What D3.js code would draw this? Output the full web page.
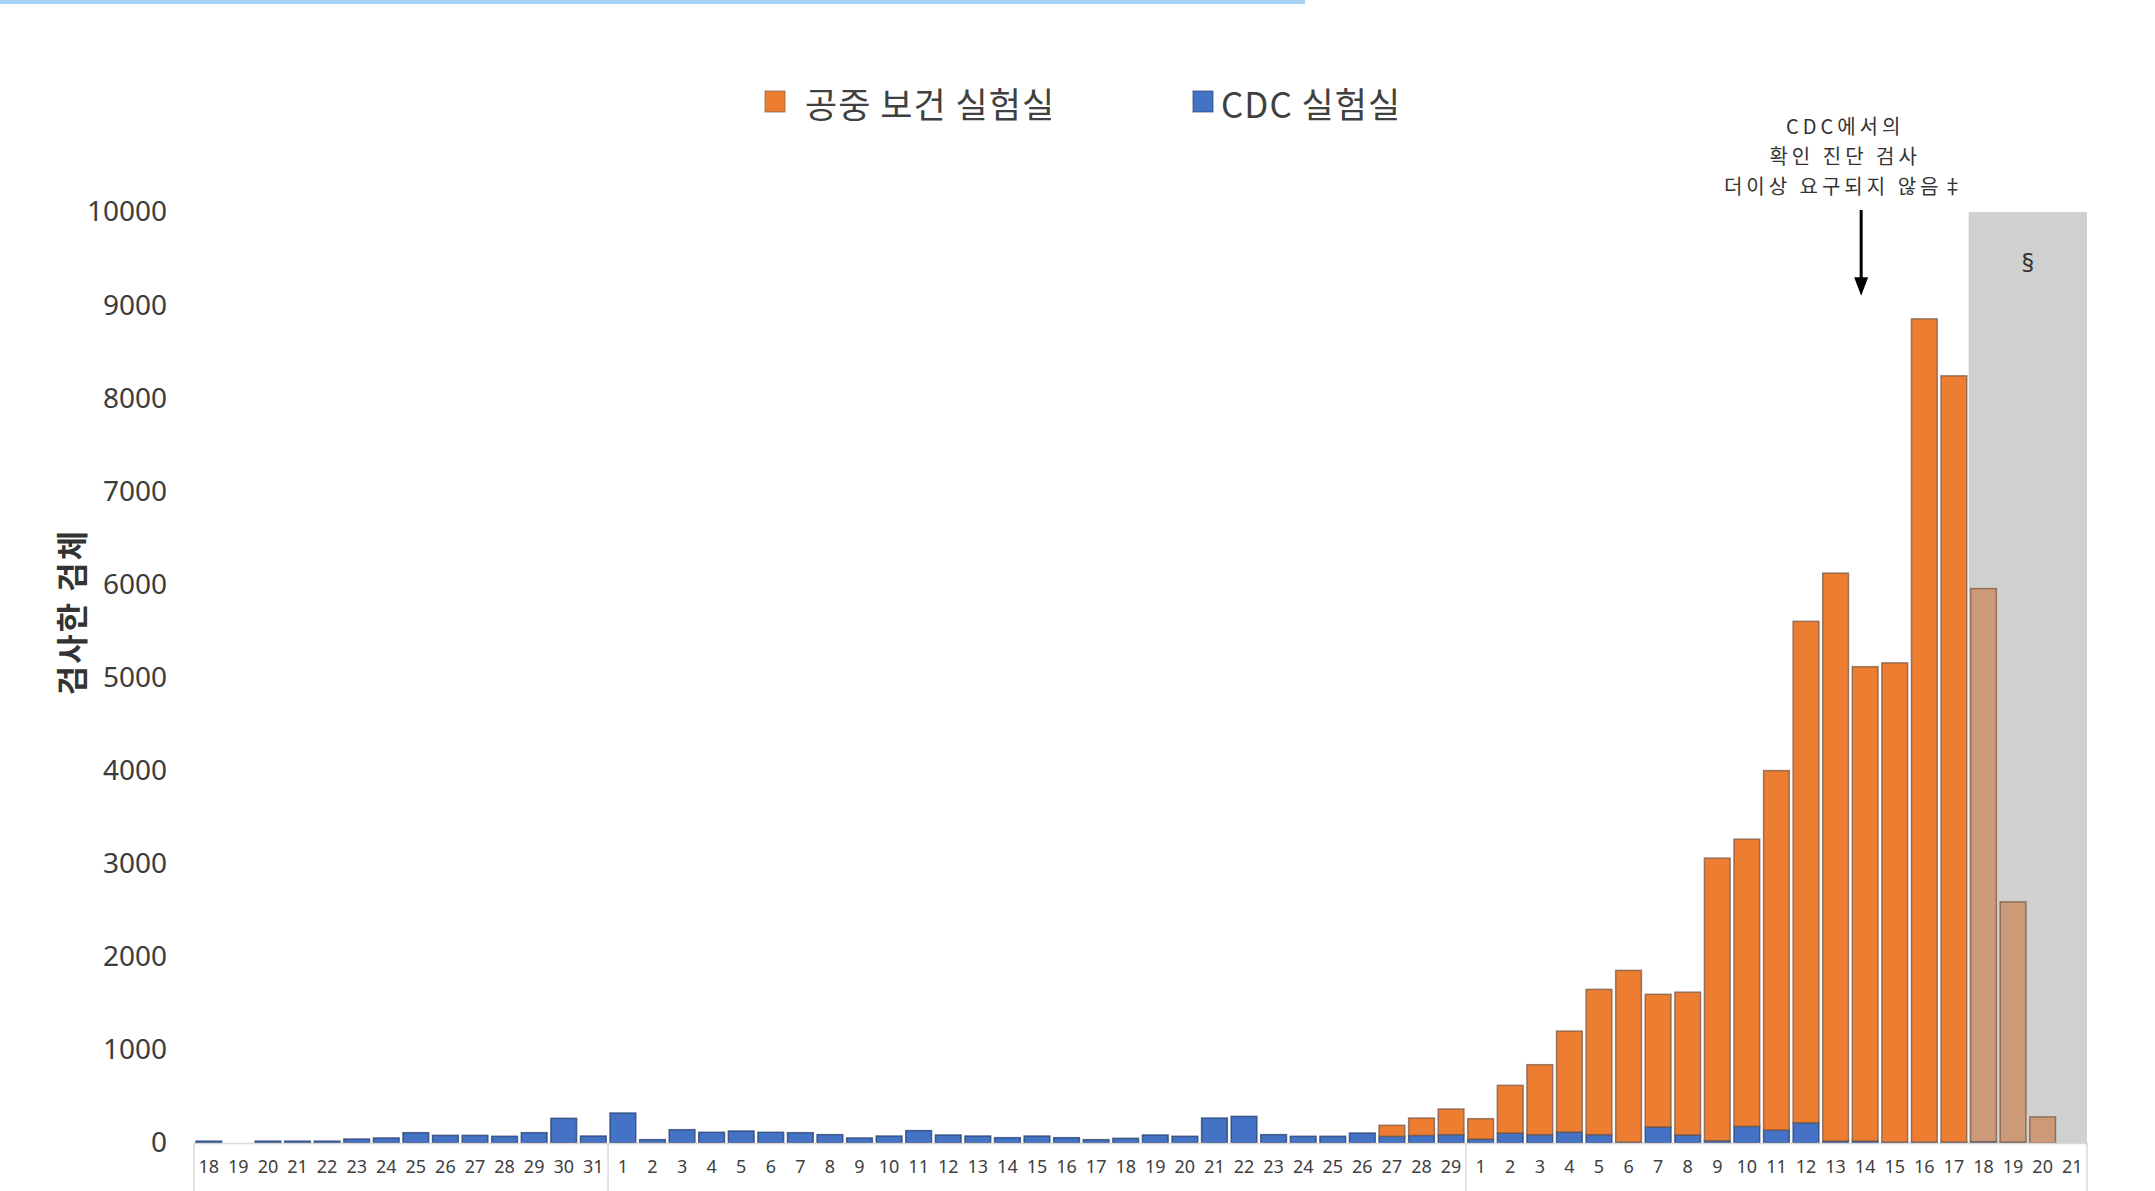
<!DOCTYPE html>
<html>
<head>
<meta charset="utf-8">
<script src="https://cdn.jsdelivr.net/npm/d3@7"></script>
<style>
  html, body { margin: 0; padding: 0; background: #ffffff; }
  svg { display: block; }
</style>
</head>
<body>
<svg id="chart"></svg>
<script>
var width = 2155,
    height = 1191;

// day labels: 18 Jan .. 21 Mar
let dates = [
    '1/18','1/19','1/20','1/21','1/22','1/23','1/24','1/25','1/26','1/27','1/28','1/29','1/30','1/31',
    '2/1','2/2','2/3','2/4','2/5','2/6','2/7','2/8','2/9','2/10','2/11','2/12','2/13','2/14','2/15',
    '2/16','2/17','2/18','2/19','2/20','2/21','2/22','2/23','2/24','2/25','2/26','2/27','2/28','2/29',
    '3/1','3/2','3/3','3/4','3/5','3/6','3/7','3/8','3/9','3/10','3/11','3/12','3/13','3/14','3/15',
    '3/16','3/17','3/18','3/19','3/20','3/21'
];
let cdcValues = [
    20, 0, 20, 20, 20, 43, 54, 111, 82, 82, 72, 111, 265, 75,
    322, 36, 143, 115, 129, 115, 111, 90, 54, 75, 133, 86, 75, 57, 75,
    57, 36, 50, 86, 72, 268, 286, 90, 72, 72, 107, 72, 82, 90,
    43, 107, 90, 118, 90, 10, 172, 86, 25, 179, 140, 218, 21, 21, 10,
    10, 10, 15, 10, 0, 0
];
let phlValues = [
    0, 0, 0, 0, 0, 0, 0, 0, 0, 0, 0, 0, 0, 0,
    0, 0, 0, 0, 0, 0, 0, 0, 0, 0, 0, 0, 0, 0, 0,
    0, 0, 0, 0, 0, 0, 0, 0, 0, 0, 0, 118, 186, 275,
    218, 512, 751, 1084, 1560, 1844, 1425, 1534, 3035, 3085, 3860, 5385, 6100, 5095, 5147,
    8842, 8230, 5940, 2580, 280, 0
];
// days still being reported (shaded period)
let provisional = ['3/18', '3/19', '3/20', '3/21'];
let yTicks = [0, 1000, 2000, 3000, 4000, 5000, 6000, 7000, 8000, 9000, 10000];
let seriesNames = ['공중 보건 실험실', 'CDC 실험실'];

let colors = {phl: '#ED7D31', cdc: '#4472C4'},
    fadedColors = {phl: '#CC9A77', cdc: '#9AAAC4'},
    strokes = {phl: '#7a5a48', cdc: '#253f6e'},
    fontNum = 'Noto Sans, Noto Sans CJK KR, sans-serif',
    fontKr = 'Noto Sans CJK KR, sans-serif';

let rows = dates.map(function(d, i) {
    return {date: d, cdc: cdcValues[i], phl: phlValues[i]};
});

let svg = d3.select('#chart').attr('width', width).attr('height', height)
    .attr('viewBox', '0 0 ' + width + ' ' + height);

let x = d3.scaleBand().domain(dates).range([194, 2087]).paddingInner(0.13).paddingOuter(0.065),
    y = d3.scaleLinear().domain([0, 10000]).range([1143, 212]);

// top strip left from the page
svg.append('rect')
    .attr('x', 0).attr('y', 0).attr('width', 1305).attr('height', 4)
    .attr('fill', '#a8d3f5');

// shaded period
let shadeStart = x(provisional[0]) - x.step() * x.paddingInner() / 2;
svg.append('rect')
    .attr('x', shadeStart)
    .attr('y', y(10000))
    .attr('width', x.range()[1] - shadeStart)
    .attr('height', y(0) - y(10000))
    .attr('fill', '#d0d0d0');
svg.append('text')
    .attr('x', shadeStart + (x.range()[1] - shadeStart) / 2)
    .attr('y', 262)
    .attr('text-anchor', 'middle')
    .attr('dominant-baseline', 'central')
    .attr('font-family', fontNum)
    .attr('font-size', '25px')
    .attr('fill', '#333333')
    .text('§');

// stacked bars
let stack = d3.stack().keys(['cdc', 'phl']);
let layers = svg.selectAll('.layer')
    .data(stack(rows))
    .enter()
    .append('g')
    .attr('class', function(d) { return 'layer ' + d.key; });
layers.selectAll('rect')
    .data(function(d) { return d.map(function(p) { p.key = d.key; return p; }); })
    .enter()
    .filter(function(d) { return d[1] - d[0] > 0; })
    .append('rect')
    .attr('x', function(d) { return x(d.data.date); })
    .attr('width', x.bandwidth())
    .attr('y', function(d) { return y(d[1]); })
    .attr('height', function(d) { return y(d[0]) - y(d[1]); })
    .attr('fill', function(d) {
        return provisional.indexOf(d.data.date) >= 0 ? fadedColors[d.key] : colors[d.key];
    })
    .attr('stroke', function(d) { return strokes[d.key]; })
    .attr('stroke-opacity', 0.75)
    .attr('stroke-width', 1.5);

// y axis labels
let yAxis = svg.append('g')
    .attr('transform', 'translate(167,0)')
    .call(d3.axisLeft(y).tickValues(yTicks).tickSize(0).tickPadding(0).tickFormat(d3.format('d')));
yAxis.select('.domain').remove();
yAxis.selectAll('text')
    .attr('font-family', fontNum)
    .attr('font-size', '28px')
    .attr('fill', '#3c3c3c');

// x axis
let xAxis = svg.append('g')
    .attr('transform', 'translate(0,' + y(0) + ')')
    .call(d3.axisBottom(x).tickSize(0).tickSizeOuter(0).tickPadding(17)
        .tickFormat(function(d) { return d.split('/')[1]; }));
xAxis.select('.domain')
    .attr('stroke', '#d9d9d9')
    .attr('stroke-width', 1.5);
xAxis.selectAll('text')
    .attr('font-family', fontNum)
    .attr('font-size', '18px')
    .attr('fill', '#404040');

// month separators under the axis
let sepX = [x.range()[0], x('2/1') - x.step() * x.paddingInner() / 2,
            x('3/1') - x.step() * x.paddingInner() / 2, x.range()[1]];
svg.selectAll('.sep')
    .data(sepX)
    .enter()
    .append('line')
    .attr('class', 'sep')
    .attr('x1', function(d) { return d; })
    .attr('x2', function(d) { return d; })
    .attr('y1', y(0))
    .attr('y2', height)
    .attr('stroke', '#d9d9d9')
    .attr('stroke-width', 1.5);

// y axis title
svg.append('text')
    .attr('transform', 'translate(70,612) rotate(-90)')
    .attr('text-anchor', 'middle')
    .attr('dominant-baseline', 'central')
    .attr('font-family', fontKr)
    .attr('font-size', '32px')
    .attr('font-weight', 700)
    .attr('letter-spacing', '2px')
    .attr('fill', '#333333')
    .text('검사한 검체');

// legend
let legend = svg.append('g').attr('class', 'legend');
let legendItems = [
    {name: seriesNames[0], color: colors.phl, stroke: strokes.phl, box: 765, text: 805},
    {name: seriesNames[1], color: colors.cdc, stroke: strokes.cdc, box: 1193, text: 1221}
];
legend.selectAll('rect')
    .data(legendItems)
    .enter()
    .append('rect')
    .attr('x', function(d) { return d.box; })
    .attr('y', 91)
    .attr('width', 20)
    .attr('height', 21)
    .attr('fill', function(d) { return d.color; })
    .attr('stroke', function(d) { return d.stroke; })
    .attr('stroke-opacity', 0.7);
legend.selectAll('text')
    .data(legendItems)
    .enter()
    .append('text')
    .attr('x', function(d) { return d.text; })
    .attr('y', 102)
    .attr('dominant-baseline', 'central')
    .attr('font-family', fontKr)
    .attr('font-size', '35px')
    .attr('letter-spacing', '1px')
    .attr('fill', '#404040')
    .text(function(d) { return d.name; });

// annotation arrow at 14 Mar
let arrowX = x('3/14') + x.bandwidth() / 2 - 4;
svg.append('line')
    .attr('x1', arrowX).attr('x2', arrowX)
    .attr('y1', y(10000) - 2).attr('y2', y(9250))
    .attr('stroke', '#000000')
    .attr('stroke-width', 3);
svg.append('path')
    .attr('d', 'M' + (arrowX - 7) + ',' + y(9300) + 'L' + (arrowX + 7) + ',' + y(9300) + 'L' + arrowX + ',' + y(9100) + 'Z')
    .attr('fill', '#000000');

let noteLines = ['CDC에서의', '확인 진단 검사', '더이상 요구되지 않음‡'];
svg.append('text')
    .attr('text-anchor', 'middle')
    .attr('font-family', fontKr)
    .attr('font-size', '20px')
    .attr('letter-spacing', '4px')
    .attr('fill', '#333333')
    .selectAll('tspan')
    .data(noteLines)
    .enter()
    .append('tspan')
    .attr('x', arrowX - 16)
    .attr('y', function(d, i) { return 134 + i * 30; })
    .text(function(d) { return d; });
</script>
</body>
</html>
